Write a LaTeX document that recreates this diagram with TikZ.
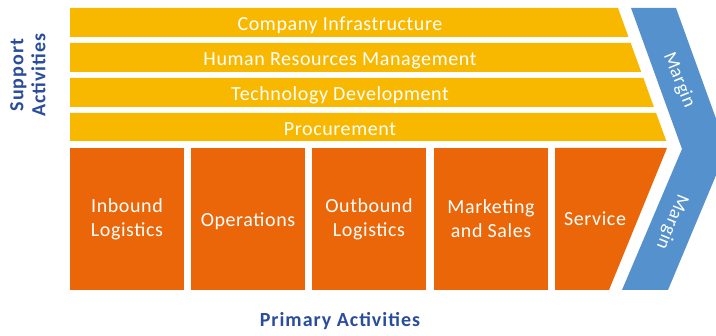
\documentclass[tikz,border=0pt]{standalone}
\usepackage{fontspec}
\setmainfont{Carlito}
\newfontfamily\widefont[LetterSpace=3]{Carlito}
\newfontfamily\widebold[LetterSpace=5,BoldFont={Carlito Bold}]{Carlito Bold}
\definecolor{supyel}{HTML}{F9B800}
\definecolor{priora}{HTML}{EB6608}
\definecolor{marblu}{HTML}{5591CC}
\definecolor{txtblu}{HTML}{2A4C9C}
\tikzset{
  supbar/.style={fill=supyel, draw=none},
  pribox/.style={fill=priora, draw=none},
  marshape/.style={fill=marblu, draw=none},
  wlbl/.style={text=white, font=\widefont\fontsize{20}{24.5}\selectfont, align=center, inner sep=0pt, anchor=base},
  mlbl/.style={text=white, font=\widefont\fontsize{19}{22}\selectfont, inner sep=0pt},
  blbl/.style={text=txtblu, font=\widebold\fontsize{20}{22}\selectfont, align=center, inner sep=0pt}
}
\begin{document}
\begin{tikzpicture}[x=1pt,y=-1pt]
\useasboundingbox (0,0) rectangle (716,336);
\clip (0,0) rectangle (716,336);
% support bars
\fill[supbar] (70,8) -- (618,8) -- (628.5,37) -- (70,37) -- cycle;
\fill[supbar] (70,43) -- (630.7,43) -- (641.2,72) -- (70,72) -- cycle;
\fill[supbar] (70,78) -- (643.4,78) -- (653.9,107) -- (70,107) -- cycle;
\fill[supbar] (70,113) -- (656.1,113) -- (666.3,141) -- (70,141) -- cycle;
% primary boxes
\fill[pribox] (70,148) rectangle (184,290);
\fill[pribox] (191,148) rectangle (305,290);
\fill[pribox] (312,148) rectangle (426,290);
\fill[pribox] (434,148) rectangle (548,290);
\fill[pribox] (555,148) -- (667,148) -- (609,290) -- (555,290) -- cycle;
% margin chevron
\fill[marshape] (631,8) -- (676,8) -- (727,149) -- (668,290) -- (622,290) -- (682,149) -- cycle;
% labels
\node[wlbl] (ci) at (340,31) {Company Infrastructure};
\node[wlbl] (hr) at (340,66) {Human Resources Management};
\node[wlbl] (td) at (340,101) {Technology Development};
\node[wlbl] (pc) at (340,135.5) {Procurement};
\node[wlbl] (ib) at (127,237) {Inbound\\Logistics};
\node[wlbl] (op) at (248,227) {Operations};
\node[wlbl] (ob) at (369,237) {Outbound\\Logistics};
\node[wlbl] (ms) at (491,238) {Marketing\\and Sales};
\node[wlbl] (sv) at (595,226) {Service};
\node[mlbl, rotate=-68] (m1) at (679,80) {Margin};
\node[mlbl, rotate=-112] (m2) at (672,222) {Margin};
\node[blbl, rotate=90] (sa) at (28,75) {Support\\Activities};
\node[blbl] (pa) at (340,321) {Primary Activities};
\end{tikzpicture}
\end{document}
